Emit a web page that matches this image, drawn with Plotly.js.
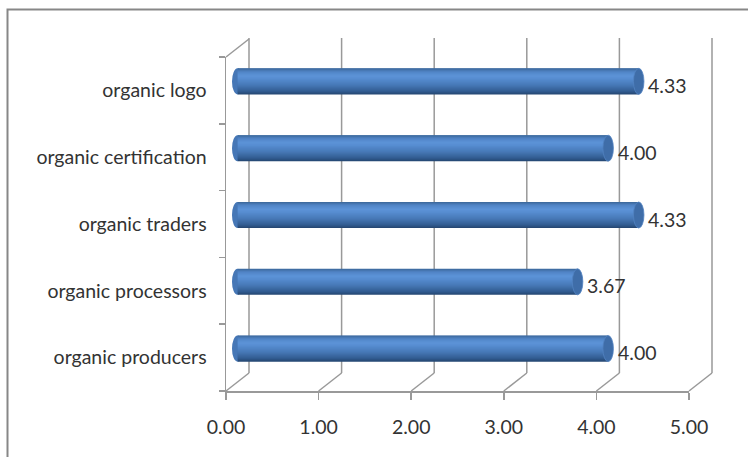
<!DOCTYPE html>
<html>
<head>
<meta charset="utf-8">
<script src="https://cdn.plot.ly/plotly-3.0.1.min.js"></script>
<style>html,body{margin:0;padding:0;background:#fff;}#chart{width:748px;height:457px;}</style>
</head>
<body>
<div id="chart"></div>
<script>
// ---- data ----
const categories = ['organic producers', 'organic processors', 'organic traders', 'organic certification', 'organic logo'];
const values = [4.00, 3.67, 4.33, 4.00, 4.33];
const tickVals = [0, 1, 2, 3, 4, 5];
const tickLabels = ['0.00', '1.00', '2.00', '3.00', '4.00', '5.00'];
const xRange = [0, 5];

// ---- geometry helpers ----
const W = 748, H = 457;
const px = x => x / W;
const py = y => 1 - y / H;
const FONT = 'Lato, "Open Sans", sans-serif';
const GRID = '#999999';
const frac = v => (v - xRange[0]) / (xRange[1] - xRange[0]);

// cylinder shading: strips from bottom (t=0) to top (t=1)
const stops = [
  [0.00, [36, 68, 110]],
  [0.12, [50, 92, 145]],
  [0.35, [70, 119, 181]],
  [0.60, [86, 140, 208]],
  [0.72, [92, 147, 216]],
  [0.88, [80, 132, 197]],
  [1.00, [58, 102, 152]]
];
function shade(t) {
  for (let i = 1; i < stops.length; i++) {
    if (t <= stops[i][0]) {
      const a = stops[i - 1], b = stops[i];
      const f = (t - a[0]) / (b[0] - a[0]);
      const c = a[1].map((v, k) => Math.round(v + (b[1][k] - v) * f));
      return 'rgb(' + c.join(',') + ')';
    }
  }
  return 'rgb(' + stops[stops.length - 1][1].join(',') + ')';
}

const barW = 0.39;
const N = 26;
const traces = [];
for (let i = 0; i < N; i++) {
  const w = barW / N;
  const t = (i + 0.5) / N;
  const last = i === N - 1;
  traces.push({
    type: 'bar', orientation: 'h',
    x: values, y: categories,
    xaxis: 'x', yaxis: 'y',
    width: categories.map(() => last ? w : w * 1.8),
    offset: categories.map(() => -barW / 2 + i * w),
    marker: { color: shade(t), line: { width: 0 } },
    hoverinfo: 'skip', showlegend: false
  });
}

const shapes = [];
// outer frame
shapes.push({ type: 'rect', xref: 'paper', yref: 'paper', x0: px(7.5), x1: 1.2, y0: -0.2, y1: py(9.5),
  line: { color: '#878787', width: 2 }, fillcolor: 'rgba(0,0,0,0)', layer: 'below' });
// back wall gridlines
tickVals.forEach(v => {
  shapes.push({ type: 'line', xref: 'x3 domain', yref: 'y3 domain', x0: frac(v), x1: frac(v), y0: 0, y1: 1,
    line: { color: GRID, width: 1.5 }, layer: 'below' });
  // floor diagonals
  shapes.push({ type: 'line', xref: 'x2 domain', xsizemode: 'pixel', xanchor: frac(v), x0: 0, x1: 23,
    yref: 'paper', ysizemode: 'pixel', yanchor: py(391), y0: 0, y1: 18,
    line: { color: GRID, width: 1.5 }, layer: 'below' });
});
// left wall top diagonal
shapes.push({ type: 'line', xref: 'x2 domain', xsizemode: 'pixel', xanchor: 0, x0: 0, x1: 23,
  yref: 'paper', ysizemode: 'pixel', yanchor: py(57), y0: 0, y1: 18,
  line: { color: GRID, width: 1.5 }, layer: 'below' });
// cylinder caps
values.forEach((v, i) => {
  shapes.push({ type: 'circle', xref: 'x domain', xsizemode: 'pixel', xanchor: frac(0), x0: -5.5, x1: 5.5,
    yref: 'y', y0: i - barW / 2, y1: i + barW / 2,
    fillcolor: '#4677b6', line: { width: 0 }, layer: 'below' });
  shapes.push({ type: 'circle', xref: 'x', xsizemode: 'pixel', xanchor: v, x0: -5, x1: 5.5,
    yref: 'y', y0: i - barW / 2, y1: i + barW / 2,
    fillcolor: '#3f6da8', line: { color: '#5283c2', width: 0.8 }, layer: 'above' });
});

const annotations = values.map((v, i) => ({
  xref: 'x', yref: 'y', x: v, y: i, text: v.toFixed(2),
  xanchor: 'left', yanchor: 'middle', xshift: 8, yshift: -4, showarrow: false,
  font: { family: FONT, size: 19.5, color: '#333333' }
}));

const layout = {
  width: W, height: H,
  margin: { l: 0, r: 0, t: 0, b: 0 },
  paper_bgcolor: '#ffffff', plot_bgcolor: 'rgba(0,0,0,0)',
  barmode: 'overlay', showlegend: false,
  font: { family: FONT, size: 19.5, color: '#333333' },
  // bars (mid-depth)
  xaxis: { domain: [px(237.5), px(700.5)], range: xRange, visible: false, fixedrange: true, anchor: 'y' },
  yaxis: { domain: [py(382), py(48)], type: 'category', categoryorder: 'array', categoryarray: categories,
    range: [-0.5, 4.5], visible: false, fixedrange: true, anchor: 'x' },
  // front plane: axis labels
  xaxis2: { domain: [px(226), px(689)], range: xRange, anchor: 'y2', tickmode: 'array',
    tickvals: tickVals, ticktext: tickLabels, ticks: 'outside', ticklen: 7, tickwidth: 1.5, tickcolor: GRID,
    showline: true, linecolor: GRID, linewidth: 1.5, showgrid: false, zeroline: false,
    ticklabelstandoff: 11, tickfont: { family: FONT, size: 19.5, color: '#333333' }, fixedrange: true },
  yaxis2: { domain: [py(391), py(57)], type: 'category', categoryorder: 'array', categoryarray: categories,
    range: [-0.5, 4.5], anchor: 'x2', ticks: 'outside', tickson: 'boundaries', ticklen: 6, tickwidth: 1.5,
    tickcolor: GRID, showline: true, linecolor: GRID, linewidth: 1.5, showgrid: false, zeroline: false,
    ticklabelstandoff: 14, tickfont: { family: FONT, size: 19.5, color: '#333333' }, fixedrange: true },
  // back wall
  xaxis3: { domain: [px(249), px(712)], range: xRange, anchor: 'y3', visible: false, fixedrange: true },
  yaxis3: { domain: [py(373), py(38)], range: [0, 1], anchor: 'x3', visible: false, fixedrange: true },
  shapes: shapes,
  annotations: annotations
};

// empty traces so the front and back axes render
traces.unshift({ type: 'scatter', x: [null], y: [categories[0]], xaxis: 'x2', yaxis: 'y2', mode: 'markers',
  hoverinfo: 'skip', showlegend: false });
traces.unshift({ type: 'scatter', x: [null], y: [null], xaxis: 'x3', yaxis: 'y3', mode: 'markers',
  hoverinfo: 'skip', showlegend: false });

Plotly.newPlot('chart', traces, layout, { displayModeBar: false, staticPlot: true });
</script>
</body>
</html>
